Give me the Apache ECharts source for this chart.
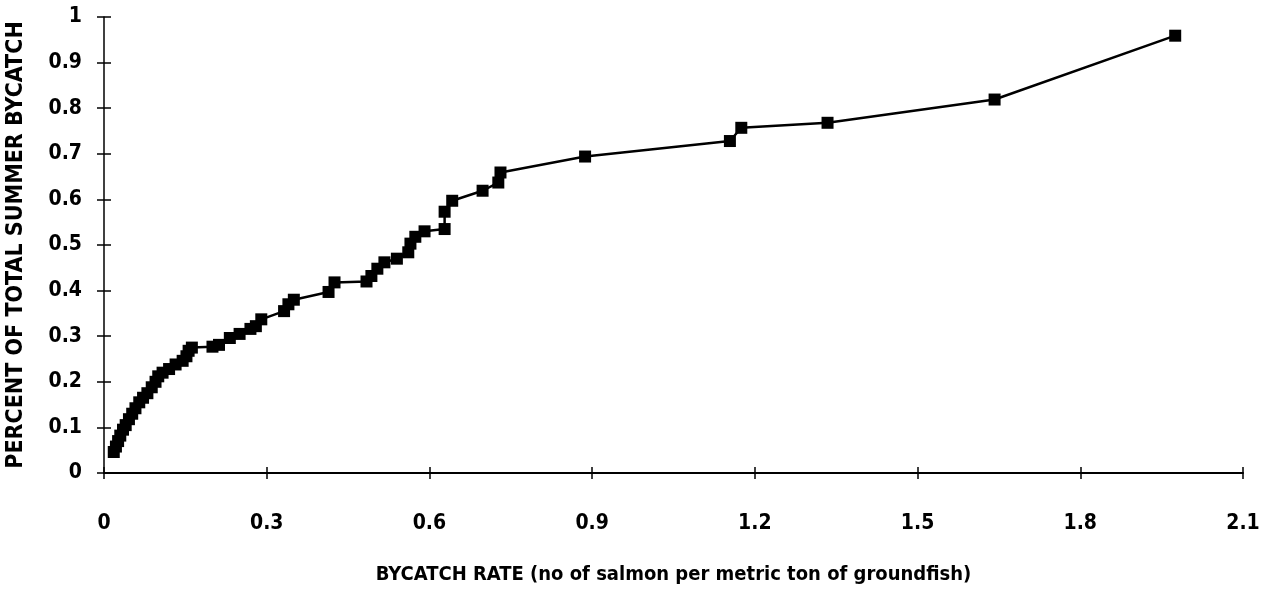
<!DOCTYPE html>
<html>
<head>
<meta charset="utf-8">
<script src="https://cdn.jsdelivr.net/npm/echarts@6/dist/echarts.min.js"></script>
<style>
  html, body { margin: 0; padding: 0; background: #fff; }
  #chart { width: 1263px; height: 590px; }
</style>
</head>
<body>
<div id="chart"></div>
<script>
// bycatch rate (salmon per metric ton of groundfish)
const bycatchRate = [
  0.018, 0.022, 0.026, 0.030, 0.035, 0.040, 0.046, 0.052, 0.058, 0.065,
  0.072, 0.080, 0.088, 0.095, 0.100, 0.108, 0.120, 0.132, 0.145, 0.152,
  0.156, 0.162, 0.200, 0.212, 0.232, 0.250, 0.270, 0.280, 0.290, 0.332,
  0.340, 0.350, 0.414, 0.425, 0.484, 0.493, 0.504, 0.517, 0.540, 0.561,
  0.565, 0.574, 0.591, 0.628, 0.628, 0.642, 0.698, 0.727, 0.731, 0.887,
  1.154, 1.175, 1.334, 1.642, 1.975
];
// cumulative share of total summer bycatch
const cumShare = [
  0.046, 0.058, 0.070, 0.082, 0.095, 0.105, 0.118, 0.130, 0.142, 0.155,
  0.165, 0.175, 0.188, 0.200, 0.212, 0.220, 0.228, 0.238, 0.246, 0.256,
  0.268, 0.275, 0.277, 0.281, 0.296, 0.305, 0.316, 0.322, 0.337, 0.355,
  0.370, 0.380, 0.397, 0.418, 0.420, 0.432, 0.448, 0.462, 0.470, 0.484,
  0.503, 0.518, 0.530, 0.535, 0.573, 0.597, 0.619, 0.637, 0.659, 0.694,
  0.728, 0.757, 0.768, 0.819, 0.959
];

const xMin = 0, xMax = 2.1, xStep = 0.3;
const yMin = 0, yMax = 1, yStep = 0.1;

const chart = echarts.init(document.getElementById("chart"));

const points = bycatchRate.map((x, i) => [x, cumShare[i]]);

const font = "'DejaVu Sans Condensed', 'Liberation Sans', Arial, sans-serif";

const labelFont = {
  color: "#000",
  fontFamily: font,
  fontWeight: "bold",
  fontSize: 21,
};

// same box twice: the second grid only carries the inward half of the ticks
const box = { left: 104, right: 20, top: 17, bottom: 117, outerBoundsMode: "none" };

chart.setOption({
  backgroundColor: "#fff",
  animation: false,
  grid: [box, { ...box }],

  xAxis: [
    {
      type: "value",
      gridIndex: 0,
      min: xMin,
      max: xMax,
      interval: xStep,
      name: "BYCATCH RATE (no of salmon per metric ton of groundfish)",
      nameLocation: "middle",
      nameGap: 92,
      nameTextStyle: {
        color: "#000",
        fontFamily: font,
        fontWeight: "bold",
        fontSize: 20,
      },
      axisLine: { show: true, lineStyle: { color: "#000", width: 2 } },
      axisTick: { show: true, length: 6, lineStyle: { color: "#000", width: 1.5 } },
      axisLabel: { ...labelFont, margin: 40 },
      splitLine: { show: false },
    },
    {
      type: "value",
      gridIndex: 1,
      min: xMin,
      max: xMax,
      interval: xStep,
      position: "bottom",
      axisLine: { show: false },
      axisTick: { show: true, inside: true, length: 6, lineStyle: { color: "#000", width: 1.5 } },
      axisLabel: { show: false },
      splitLine: { show: false },
    },
  ],

  yAxis: [
    {
      type: "value",
      gridIndex: 0,
      min: yMin,
      max: yMax,
      interval: yStep,
      name: "PERCENT OF TOTAL SUMMER BYCATCH",
      nameLocation: "middle",
      nameGap: 76,
      nameTextStyle: {
        color: "#000",
        fontFamily: font,
        fontWeight: "bold",
        fontSize: 23,
      },
      axisLine: { show: true, lineStyle: { color: "#000", width: 1.5 } },
      axisTick: { show: true, length: 7, lineStyle: { color: "#000", width: 1.5 } },
      axisLabel: { ...labelFont, margin: 22 },
      splitLine: { show: false },
    },
    {
      type: "value",
      gridIndex: 1,
      min: yMin,
      max: yMax,
      interval: yStep,
      position: "left",
      axisLine: { show: false },
      axisTick: { show: true, inside: true, length: 7, lineStyle: { color: "#000", width: 1.5 } },
      axisLabel: { show: false },
      splitLine: { show: false },
    },
  ],

  series: [
    {
      type: "line",
      xAxisIndex: 0,
      yAxisIndex: 0,
      data: points,
      symbol: "rect",
      symbolSize: 12,
      itemStyle: { color: "#000" },
      lineStyle: { color: "#000", width: 2.5 },
    },
  ],
});
</script>
</body>
</html>
